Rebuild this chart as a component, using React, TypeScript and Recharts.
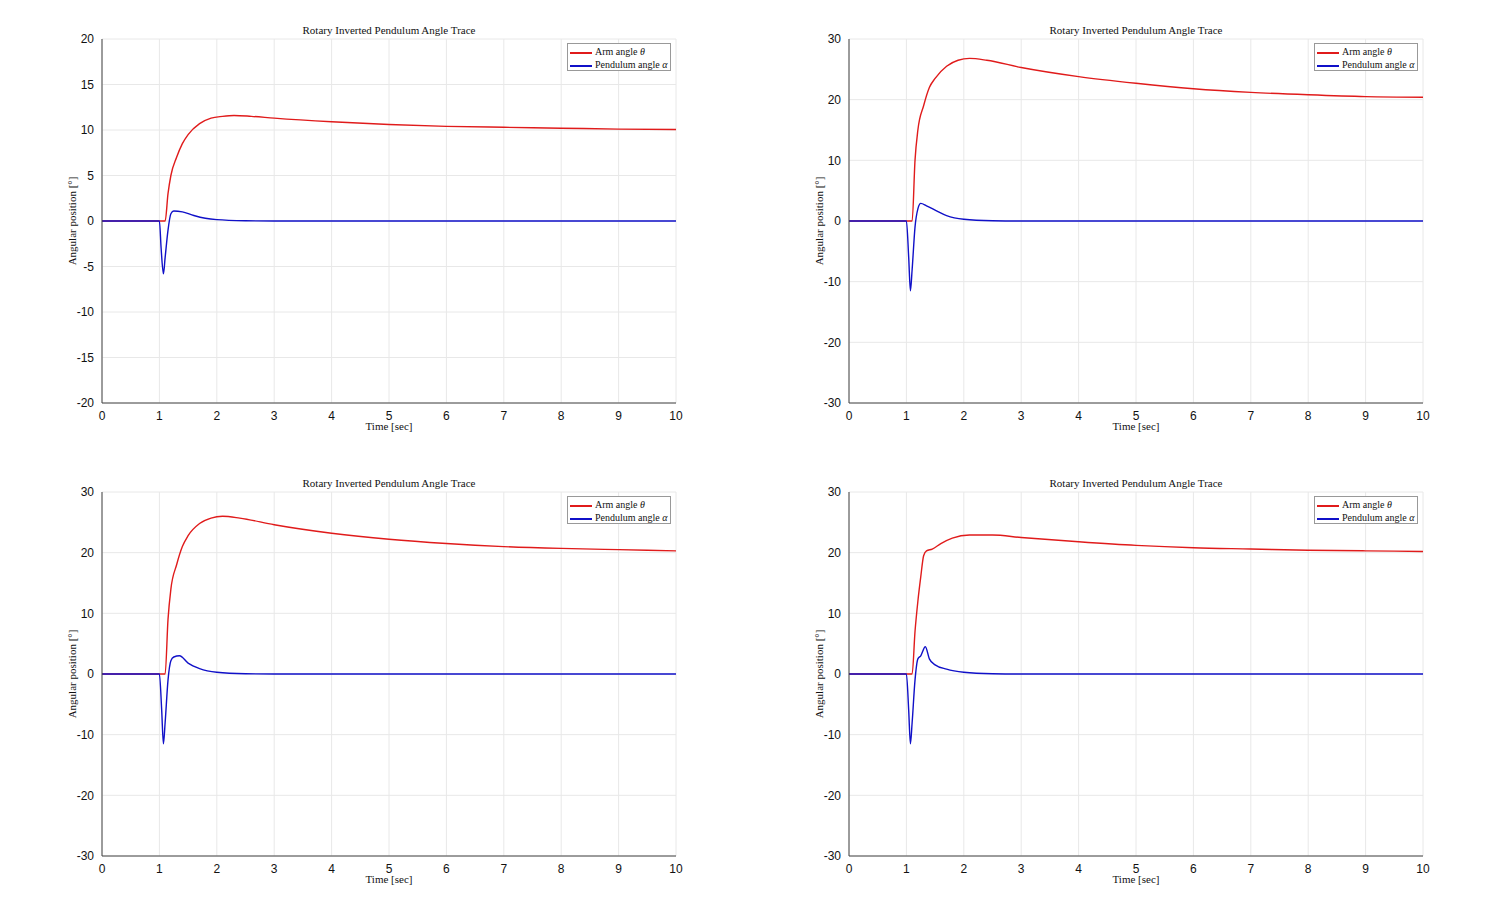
import { LineChart, Line, XAxis, YAxis, CartesianGrid } from "recharts";

type Pt = { t: number; v: number };
const mk = (t: number[], v: number[]): Pt[] => t.map((x, i) => ({ t: x, v: v[i] }));

const timeTicks = [0, 1, 2, 3, 4, 5, 6, 7, 8, 9, 10];
const yTicks20 = [-20, -15, -10, -5, 0, 5, 10, 15, 20];
const yTicks30 = [-30, -20, -10, 0, 10, 20, 30];

// panel 1
const arm1T = [0, 1.1, 1.15, 1.2, 1.3, 1.4, 1.5, 1.7, 1.9, 2.1, 2.3, 2.6, 3, 4, 5, 6, 7, 8, 9, 10];
const arm1V = [0, 0, 3, 5, 7, 8.5, 9.5, 10.7, 11.3, 11.5, 11.6, 11.5, 11.3, 10.9, 10.6, 10.4, 10.3, 10.2, 10.1, 10.05];
const pen1T = [0, 1.0, 1.03, 1.07, 1.1, 1.15, 1.2, 1.25, 1.4, 1.6, 1.8, 2, 2.5, 3, 10];
const pen1V = [0, 0, -3, -5.8, -4, -1, 0.8, 1.1, 1.0, 0.6, 0.3, 0.15, 0.03, 0, 0];
// panel 2
const arm2T = [0, 1.1, 1.15, 1.2, 1.3, 1.4, 1.5, 1.7, 1.9, 2.1, 2.4, 3, 4, 5, 6, 7, 8, 9, 10];
const arm2V = [0, 0, 10, 15, 19, 22, 23.5, 25.5, 26.5, 26.8, 26.5, 25.3, 23.8, 22.7, 21.8, 21.2, 20.8, 20.5, 20.4];
const pen2T = [0, 1.0, 1.04, 1.07, 1.1, 1.15, 1.2, 1.25, 1.35, 1.5, 1.7, 2, 2.5, 3, 10];
const pen2V = [0, 0, -6, -11.5, -8, -1, 2, 2.9, 2.5, 1.8, 0.9, 0.3, 0.05, 0, 0];
// panel 3
const arm3T = [0, 1.1, 1.15, 1.2, 1.3, 1.4, 1.5, 1.7, 1.9, 2.1, 2.4, 3, 4, 5, 6, 7, 8, 9, 10];
const arm3V = [0, 0, 9, 14, 18, 21, 22.8, 24.8, 25.7, 26, 25.7, 24.6, 23.2, 22.2, 21.5, 21, 20.7, 20.5, 20.3];
const pen3T = [0, 1.0, 1.04, 1.07, 1.1, 1.15, 1.2, 1.25, 1.35, 1.5, 1.7, 2, 2.5, 3, 10];
const pen3V = [0, 0, -6, -11.5, -8, -1, 2.2, 2.8, 3.0, 1.8, 0.9, 0.3, 0.05, 0, 0];
// panel 4
const arm4T = [0, 1.1, 1.15, 1.2, 1.25, 1.3, 1.35, 1.45, 1.6, 1.8, 2.1, 2.5, 3, 4, 5, 6, 7, 8, 9, 10];
const arm4V = [0, 0, 7, 12, 16, 19.5, 20.3, 20.6, 21.5, 22.4, 22.9, 22.9, 22.5, 21.8, 21.2, 20.8, 20.6, 20.4, 20.3, 20.2];
const pen4T = [0, 1.0, 1.04, 1.07, 1.1, 1.15, 1.2, 1.25, 1.33, 1.4, 1.5, 1.7, 2, 2.5, 3, 10];
const pen4V = [0, 0, -6, -11.5, -8, -1, 2.5, 3, 4.5, 2.5, 1.5, 0.8, 0.3, 0.05, 0, 0];

const panels = [
  { x: 0, y: 0, lim: 20, ticks: yTicks20, arm: mk(arm1T, arm1V), pen: mk(pen1T, pen1V) },
  { x: 747, y: 0, lim: 30, ticks: yTicks30, arm: mk(arm2T, arm2V), pen: mk(pen2T, pen2V) },
  { x: 0, y: 453, lim: 30, ticks: yTicks30, arm: mk(arm3T, arm3V), pen: mk(pen3T, pen3V) },
  { x: 747, y: 453, lim: 30, ticks: yTicks30, arm: mk(arm4T, arm4V), pen: mk(pen4T, pen4V) },
];

const serif = "'Liberation Serif', 'DejaVu Serif', serif";
const sans = "'Liberation Sans', Arial, sans-serif";
const tick = { fill: "#111", fontSize: 12, fontFamily: sans };
const RED = "#e01b1b";
const BLUE = "#1010c8";

const swatch = (c: string) => (
  <span style={{ display: "inline-block", width: 22, height: 2, background: c, verticalAlign: "middle", marginRight: 3 }} />
);

function Panel({ p }: { p: (typeof panels)[number] }) {
  return (
    <div style={{ position: "absolute", left: p.x, top: p.y, width: 700, height: 450 }}>
      <LineChart width={700} height={450} margin={{ top: 39, right: 24, left: 62, bottom: 17 }}>
        <CartesianGrid stroke="#e8e8e8" verticalValues={timeTicks} />
        <XAxis dataKey="t" type="number" domain={[0, 10]} ticks={timeTicks} height={30}
          tick={tick} tickLine={false} stroke="#444" interval={0} allowDuplicatedCategory={false} />
        <XAxis xAxisId="top" orientation="top" type="number" domain={[0, 10]} ticks={timeTicks}
          tick={false} tickLine={false} height={0} stroke="#444" />
        <YAxis dataKey="v" type="number" domain={[-p.lim, p.lim]} ticks={p.ticks} width={40}
          tick={tick} tickLine={false} stroke="#444" interval={0} />
        <YAxis yAxisId="r" orientation="right" type="number" domain={[-p.lim, p.lim]}
          tick={false} tickLine={false} width={0} stroke="#444" />
        <Line data={p.arm} dataKey="v" type="monotone" stroke={RED} strokeWidth={1.4}
          dot={false} isAnimationActive={false} />
        <Line data={p.pen} dataKey="v" type="monotone" stroke={BLUE} strokeWidth={1.4}
          dot={false} isAnimationActive={false} />
      </LineChart>
      <div style={{ position: "absolute", left: 102, width: 574, top: 24, textAlign: "center",
        fontFamily: serif, fontSize: 11, color: "#111" }}>Rotary Inverted Pendulum Angle Trace</div>
      <div style={{ position: "absolute", left: 102, width: 574, top: 420, textAlign: "center",
        fontFamily: serif, fontSize: 11, color: "#111" }}>Time [sec]</div>
      <div style={{ position: "absolute", left: 72, top: 221, transform: "translate(-50%,-50%) rotate(-90deg)",
        whiteSpace: "nowrap", fontFamily: serif, fontSize: 11, color: "#111" }}>Angular position [°]</div>
      <div style={{ position: "absolute", left: 567, top: 43, width: 104, height: 28, border: "1px solid #999",
        background: "#fff", fontFamily: serif, fontSize: 10, color: "#111", lineHeight: "13px", boxSizing: "border-box", padding: "1px 0 0 2px" }}>
        <div>{swatch(RED)}Arm angle <i>θ</i></div>
        <div>{swatch(BLUE)}Pendulum angle <i>α</i></div>
      </div>
    </div>
  );
}

export default function App() {
  return (
    <div style={{ position: "absolute", left: 0, top: 0, width: 1500, height: 910, background: "#fff" }}>
      {panels.map((p, i) => <Panel key={i} p={p} />)}
    </div>
  );
}
